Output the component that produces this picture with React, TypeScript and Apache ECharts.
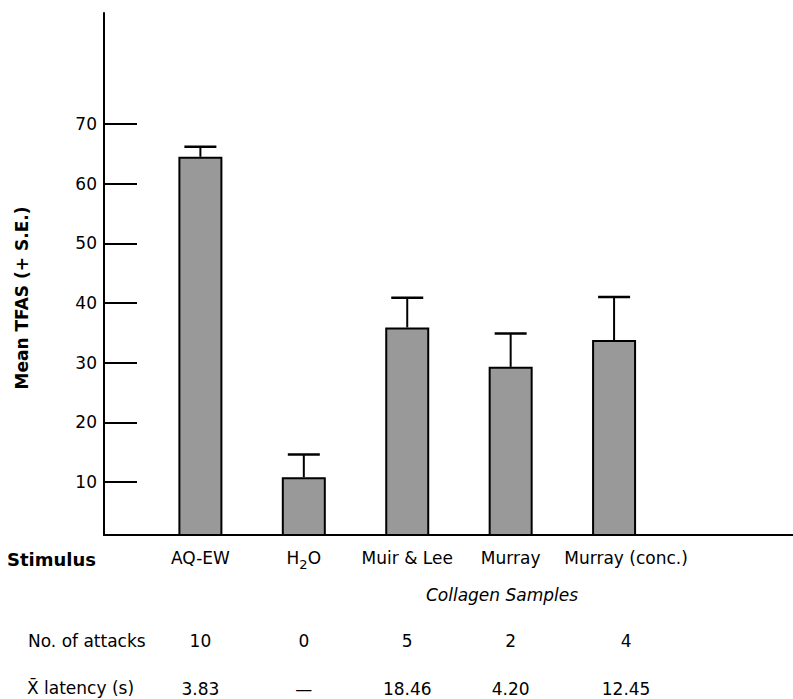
import React, { useEffect, useRef } from 'react';
import * as echarts from 'echarts';

const categories = ['AQ-EW', 'H2O', 'Muir & Lee', 'Murray', 'Murray (conc.)'];
const meanTFAS = [64.5, 10.8, 35.9, 29.3, 33.8];
const stdErr = [1.7, 3.8, 5.0, 5.6, 7.2];
const attacks = ['10', '0', '5', '2', '4'];
const latency = ['3.83', '—', '18.46', '4.20', '12.45'];
const yTicks = [10, 20, 30, 40, 50, 60, 70];

const FONT = '"DejaVu Sans"';

export default function App() {
  const ref = useRef<HTMLDivElement>(null);
  useEffect(() => {
    const chart = echarts.init(ref.current!, null, { renderer: 'svg' });
    const pos = categories.map((_, i) => i + 1);
    const xBase: any = {
      type: 'value',
      min: 0.068,
      max: 6.73,
      splitLine: { show: false },
      axisTick: { show: false },
    };
    const mkRich = (lh: number): any => ({
      n: { fontFamily: FONT, fontSize: 17, color: '#000', lineHeight: lh },
      w: { fontFamily: FONT, fontSize: 17, color: '#000', lineHeight: lh, padding: [0, 0, 0, 24] },
      s: { fontFamily: FONT, fontSize: 13, color: '#000', lineHeight: 14, verticalAlign: 'bottom' },
    });
    // last column is set a little right of its bar in the original
    const wrap = (t: string, i: number) => (i === 4 ? `{w|${t}}` : `{n|${t}}`);
    const mkLabel = (lh: number, margin: number): any => ({
      fontFamily: FONT,
      fontSize: 17,
      color: '#000',
      lineHeight: lh,
      margin,
      hideOverlap: false,
      customValues: pos,
      rich: mkRich(lh),
    });
    const option: any = {
      animation: false,
      backgroundColor: '#fff',
      grid: { left: 104, right: 0, top: 13, bottom: 164, containLabel: false, outerBoundsMode: 'none' },
      xAxis: [
        {
          ...xBase,
          axisLine: { show: true, onZero: false, lineStyle: { color: '#000', width: 2 } },
          axisLabel: {
            ...mkLabel(26, 10),
            formatter: (v: number) => {
              const i = Math.round(v) - 1;
              const c = categories[i];
              return c === 'H2O' ? '{n|H}{s|2}{n|O}' : wrap(c, i);
            },
          },
        },
        {
          ...xBase,
          position: 'bottom',
          offset: 83,
          axisLine: { show: false },
          axisLabel: {
            ...mkLabel(17, 14),
            formatter: (v: number) => {
              const i = Math.round(v) - 1;
              return wrap(attacks[i], i);
            },
          },
        },
        {
          ...xBase,
          position: 'bottom',
          offset: 131,
          axisLine: { show: false },
          axisLabel: {
            ...mkLabel(17, 14),
            formatter: (v: number) => {
              const i = Math.round(v) - 1;
              return wrap(latency[i], i);
            },
          },
        },
      ],
      yAxis: {
        type: 'value',
        min: 1.12,
        max: 88.6,
        axisLine: { show: true, onZero: false, lineStyle: { color: '#000', width: 2 } },
        axisTick: { show: true, inside: true, length: 33, customValues: yTicks, lineStyle: { color: '#000', width: 2 } },
        axisLabel: { customValues: yTicks, fontFamily: FONT, fontSize: 17, color: '#000', margin: 7 },
        splitLine: { show: false },
      },
      series: [
        {
          type: 'bar',
          xAxisIndex: 0,
          data: pos.map((p, i) => [p, meanTFAS[i]]),
          barWidth: 44,
          clip: true,
          itemStyle: { color: '#999999', borderColor: '#000', borderWidth: 2 },
        },
        {
          type: 'custom',
          xAxisIndex: 0,
          z: 5,
          data: pos.map((p, i) => [p, meanTFAS[i], stdErr[i]]),
          encode: { x: 0, y: 1 },
          renderItem: (params: any, api: any) => {
            const x = api.value(0);
            const m = api.value(1);
            const e = api.value(2);
            const p0 = api.coord([x, m]);
            const p1 = api.coord([x, m + e]);
            return {
              type: 'group',
              children: [
                { type: 'line', shape: { x1: p0[0], y1: p0[1], x2: p1[0], y2: p1[1] }, style: { stroke: '#000', lineWidth: 2 } },
                { type: 'line', shape: { x1: p1[0] - 16, y1: p1[1], x2: p1[0] + 16, y2: p1[1] }, style: { stroke: '#000', lineWidth: 2.5 } },
              ],
            };
          },
        },
      ],
      graphic: [
        {
          type: 'text',
          x: 22,
          y: 298,
          rotation: Math.PI / 2,
          style: { text: 'Mean TFAS (+ S.E.)', font: `bold 17px ${FONT}`, fill: '#000', align: 'center', verticalAlign: 'middle', textAlign: 'center', textVerticalAlign: 'middle' },
        },
        {
          type: 'text',
          x: 7,
          y: 559,
          style: { text: 'Stimulus', font: `bold 18px ${FONT}`, fill: '#000', align: 'left', verticalAlign: 'middle', textAlign: 'left', textVerticalAlign: 'middle' },
        },
        {
          type: 'text',
          x: 502,
          y: 595,
          style: { text: 'Collagen Samples', font: `italic 17px ${FONT}`, fill: '#000', align: 'center', verticalAlign: 'middle', textAlign: 'center', textVerticalAlign: 'middle' },
        },
        {
          type: 'text',
          x: 28,
          y: 641,
          style: { text: 'No. of attacks', font: `17px ${FONT}`, fill: '#000', align: 'left', verticalAlign: 'middle', textAlign: 'left', textVerticalAlign: 'middle' },
        },
        {
          type: 'text',
          x: 27,
          y: 688,
          style: { text: 'X\u0304 latency (s)', font: `17px ${FONT}`, fill: '#000', align: 'left', verticalAlign: 'middle', textAlign: 'left', textVerticalAlign: 'middle' },
        },
      ],
    };
    chart.setOption(option);
    return () => chart.dispose();
  }, []);
  return <div ref={ref} style={{ position: 'fixed', left: 0, top: 0, width: 793, height: 699 }} />;
}
